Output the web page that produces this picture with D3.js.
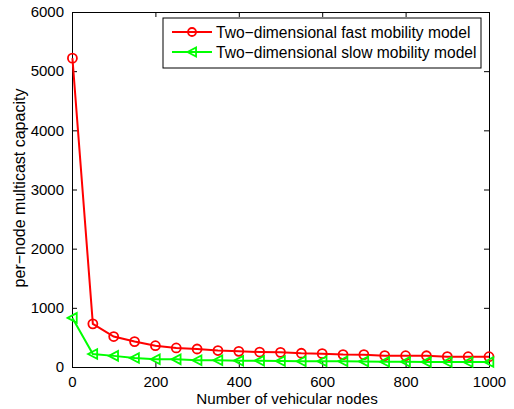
<!DOCTYPE html>
<html>
<head>
<meta charset="utf-8">
<script src="https://cdn.jsdelivr.net/npm/d3@7"></script>
<style>
  body { margin: 0; background: #fff; }
  svg { display: block; font-family: "Liberation Sans", Arial, sans-serif; }
</style>
</head>
<body>
<div id="chart"></div>
<script>
const nodeCounts = [1, 50, 100, 150, 200, 250, 300, 350, 400, 450, 500, 550, 600, 650, 700, 750, 800, 850, 900, 950, 1000];
const fastModel = [5220, 730, 515, 430, 360, 322, 304, 278, 265, 253, 248, 232, 225, 210, 208, 192, 191, 190, 175, 174, 174];
const slowModel = [830, 220, 188, 153, 130, 129, 114, 113, 107, 107, 101, 96, 96, 96, 95, 90, 90, 86, 85, 85, 85];
const xTicks = [0, 200, 400, 600, 800, 1000];
const yTicks = [0, 1000, 2000, 3000, 4000, 5000, 6000];
const seriesNames = ["Two\u2212dimensional fast mobility model", "Two\u2212dimensional slow mobility model"];
const seriesColors = ["#ff0000", "#00ff00"];

const width = 514, height = 409;
const margin = {top: 12, right: 25, bottom: 42, left: 72};

const svg = d3.select("#chart").append("svg")
    .attr("width", width)
    .attr("height", height);

const xScale = d3.scaleLinear().domain([0, 1000]).range([margin.left, width - margin.right]);
const yScale = d3.scaleLinear().domain([0, 6000]).range([height - margin.bottom, margin.top]);

// axes with inward ticks, matlab-style box
const tickLen = 5;
const fmt = d3.format("d");
svg.append("g")
    .attr("transform", `translate(0,${height - margin.bottom})`)
    .call(d3.axisBottom(xScale).tickValues(xTicks).tickFormat(fmt).tickSizeInner(-tickLen).tickSizeOuter(0).tickPadding(9));
svg.append("g")
    .attr("transform", `translate(0,${margin.top})`)
    .call(d3.axisTop(xScale).tickValues(xTicks).tickSizeInner(-tickLen).tickSizeOuter(0).tickFormat(""));
svg.append("g")
    .attr("transform", `translate(${margin.left},0)`)
    .call(d3.axisLeft(yScale).tickValues(yTicks).tickFormat(fmt).tickSizeInner(-tickLen).tickSizeOuter(0).tickPadding(8));
svg.append("g")
    .attr("transform", `translate(${width - margin.right},0)`)
    .call(d3.axisRight(yScale).tickValues(yTicks).tickSizeInner(-tickLen).tickSizeOuter(0).tickFormat(""));

svg.selectAll(".domain").attr("stroke", "#000").attr("stroke-width", 1);
svg.selectAll(".tick line").attr("stroke", "#000");
svg.selectAll(".tick text").attr("fill", "#000").style("font-size", "15px");

// axis titles
svg.append("text")
    .attr("x", 287)
    .attr("y", height - 5)
    .attr("text-anchor", "middle")
    .style("font-size", "15.2px")
    .text("Number of vehicular nodes");

svg.append("text")
    .attr("transform", `translate(25,188) rotate(-90)`)
    .attr("text-anchor", "middle")
    .style("font-size", "16px")
    .text("per\u2212node multicast capacity");

const line = d3.line()
    .x((d, i) => xScale(nodeCounts[i]))
    .y(d => yScale(d));

const triangle = r => `M${-r},0L${r * 0.9},${-r}L${r * 0.9},${r}Z`;

function drawSeries(values, color, marker) {
    const g = svg.append("g");
    g.append("path")
        .datum(values)
        .attr("fill", "none")
        .attr("stroke", color)
        .attr("stroke-width", 2)
        .attr("d", line);
    const pts = g.selectAll(".pt")
        .data(values)
        .enter();
    if (marker === "circle") {
        pts.append("circle")
            .attr("cx", (d, i) => xScale(nodeCounts[i]))
            .attr("cy", d => yScale(d))
            .attr("r", 4.5)
            .attr("fill", "none")
            .attr("stroke", color)
            .attr("stroke-width", 1.8);
    } else {
        pts.append("path")
            .attr("transform", (d, i) => `translate(${xScale(nodeCounts[i])},${yScale(d)})`)
            .attr("d", triangle(4.8))
            .attr("fill", "none")
            .attr("stroke", color)
            .attr("stroke-width", 1.8);
    }
}

drawSeries(fastModel, seriesColors[0], "circle");
drawSeries(slowModel, seriesColors[1], "triangle");

// legend
const legend = svg.append("g").attr("transform", "translate(163,18)");
legend.append("rect")
    .attr("width", 318)
    .attr("height", 50)
    .attr("fill", "#fff")
    .attr("stroke", "#000")
    .attr("stroke-width", 1);

seriesNames.forEach((name, i) => {
    const y = 14 + i * 20;
    legend.append("line")
        .attr("x1", 9).attr("x2", 49)
        .attr("y1", y).attr("y2", y)
        .attr("stroke", seriesColors[i])
        .attr("stroke-width", 2);
    if (i === 0) {
        legend.append("circle")
            .attr("cx", 29).attr("cy", y).attr("r", 4)
            .attr("fill", "none")
            .attr("stroke", seriesColors[i])
            .attr("stroke-width", 1.8);
    } else {
        legend.append("path")
            .attr("transform", `translate(29,${y})`)
            .attr("d", triangle(4.5))
            .attr("fill", "none")
            .attr("stroke", seriesColors[i])
            .attr("stroke-width", 1.8);
    }
    legend.append("text")
        .attr("x", 53)
        .attr("y", y + 6)
        .style("font-size", "15.6px")
        .text(name);
});
</script>
</body>
</html>
